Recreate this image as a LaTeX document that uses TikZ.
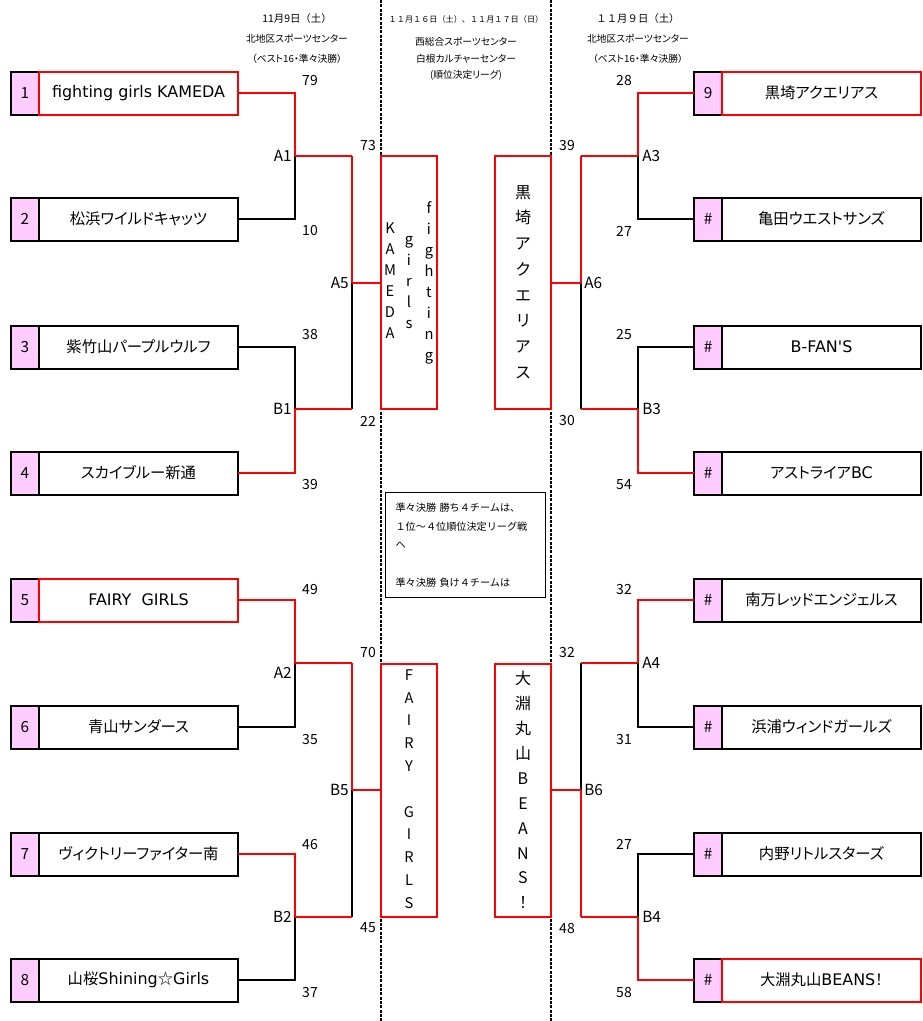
\documentclass[tikz,border=0pt]{standalone}
\usepackage{fontspec}
\setmainfont{Noto Sans CJK JP}[RawFeature=+palt]
\newfontfamily\latin{DejaVu Sans}[Scale=1.04]
\newfontfamily\wide{Noto Sans CJK JP}
\usetikzlibrary{positioning}
\definecolor{numpink}{RGB}{255,204,255}
\tikzset{
    numbox/.style={draw, line width=1.5pt, fill=numpink, minimum width=21pt, minimum height=32.25pt,
        inner sep=0pt, outer sep=0pt, font=\fontsize{11.5}{13}\selectfont},
    teambox/.style={draw, line width=1.5pt, fill=white, minimum width=149.25pt, minimum height=32.25pt,
        inner sep=0pt, outer sep=0pt, font=\fontsize{11.5}{13}\selectfont},
    finalbox/.style={draw=red, line width=1.5pt, fill=white, minimum width=42pt, minimum height=189.75pt,
        inner sep=0pt, outer sep=0pt},
    vtext/.style={align=center, inner sep=0pt, font=\fontsize{11}{15.75}\selectfont},
    score/.style={inner sep=0pt, font=\fontsize{10.5}{12}\selectfont},
    match/.style={inner sep=0pt, text height=8pt, text depth=0pt, font=\fontsize{11.5}{13}\selectfont},
    head/.style={align=center, inner sep=0pt, font=\fontsize{7.3}{15.5}\selectfont},
    bline/.style={line width=1.5pt},
    sepline/.style={line width=1.4pt, dash pattern=on 2.25pt off 1pt}
}
\begin{document}
\begin{tikzpicture}[x=0.75pt, y=-0.75pt]
    \useasboundingbox (0,0) rectangle (922,1021);
    % Separators
    \draw[sepline] (381,0) -- (381,1021);
    \draw[sepline] (551,0) -- (551,1021);
    % Headers
    \node[head] (hl) at (297,39) {{\wide\fontsize{7.8}{8}\selectfont 11月9日（土）}\\[-1pt]北地区スポーツセンター\\（ベスト16・準々決勝）};
    \node[head] (hc) at (466,48) {{\wide\fontsize{6.1}{8}\selectfont １１月１６日（土）、１１月１７日（日）}\\[2pt]
        西総合スポーツセンター\\[-3pt]白根カルチャーセンター\\[-3pt](順位決定リーグ)};
    \node[head] (hr) at (638,39) {{\wide\fontsize{7.8}{8}\selectfont １１月９日（土）}\\[-1pt]北地区スポーツセンター\\（ベスト16・準々決勝）};
    % Left teams
    \foreach \i/\y/\name/\col in {1/93/{\latin fighting girls KAMEDA}/red, 2/219/松浜ワイルドキャッツ/black,
            3/347/紫竹山パープルウルフ/black, 4/473/スカイブルー新通/black, 5/600/{\latin FAIRY\ \ GIRLS}/red,
            6/727/青山サンダース/black, 7/854/ヴィクトリーファイター南/black,
            8/980/山桜{\latin Shining}☆{\latin Girls}/black} {
        \node[numbox] (n\i) at (25,\y) {\i};
        \node[teambox, draw=\col, right=0pt of n\i] (t\i) {\name};
    }
    % Right teams
    \foreach \i/\y/\num/\name/\col in {9/93/9/黒埼アクエリアス/red, 10/219/\#/亀田ウエストサンズ/black,
            11/347/\#/{\latin B-FAN'S}/black, 12/473/\#/アストライア{\latin BC}/black,
            13/600/\#/南万レッドエンジェルス/black, 14/727/\#/浜浦ウィンドガールズ/black,
            15/854/\#/内野リトルスターズ/black, 16/980/\#/大淵丸山{\latin BEANS}！/red} {
        \node[numbox] (n\i) at (708,\y) {\num};
        \node[teambox, draw=\col, right=0pt of n\i] (t\i) {\name};
    }
    % Match points
    \coordinate (A1) at (295,156);
    \coordinate (B1) at (295,409);
    \coordinate (A2) at (295,663);
    \coordinate (B2) at (295,917);
    \coordinate (A5) at (352,283);
    \coordinate (B5) at (352,790);
    \coordinate (A3) at (638,156);
    \coordinate (B3) at (638,409);
    \coordinate (A4) at (638,663);
    \coordinate (B4) at (638,917);
    \coordinate (A6) at (581,283);
    \coordinate (B6) at (581,790);
    % Final league boxes
    \node[finalbox] (k1) at (409,282.5) {};
    \node[finalbox] (k2) at (523,282.5) {};
    \node[finalbox] (k3) at (409,790) {};
    \node[finalbox] (k4) at (523,790) {};
    \node[vtext] (k1a) at (429,282.5) {f\\i\\g\\h\\t\\i\\n\\g};
    \node[vtext] (k1b) at (409,282.5) {g\\i\\r\\l\\s};
    \node[vtext] (k1c) at (390,281) {K\\A\\M\\E\\D\\A};
    \node[vtext, font=\fontsize{12}{19.3}\selectfont] (k2a) at (523,282) {黒\\埼\\ア\\ク\\エ\\リ\\ア\\ス};
    \node[vtext, font=\fontsize{11}{17.1}\selectfont] (k3a) at (409,789) {F\\A\\I\\R\\Y\\\mbox{}\\G\\I\\R\\L\\S};
    \node[vtext, font=\fontsize{12}{18.7}\selectfont] (k4a) at (523,790) {大\\淵\\丸\\山\\B\\E\\A\\N\\S\\！};
    % First round
    \foreach \t/\m/\c in {2/A1/black, 1/A1/red, 3/B1/black, 4/B1/red, 6/A2/black, 5/A2/red, 8/B2/black, 7/B2/red} {
        \draw[bline, \c] (t\t.east) -| (\m);
    }
    \foreach \t/\m/\c in {10/A3/black, 9/A3/red, 11/B3/black, 12/B3/red, 14/A4/black, 13/A4/red, 15/B4/black, 16/B4/red} {
        \draw[bline, \c] (n\t.west) -| (\m);
    }
    % Quarter finals
    \foreach \m/\n/\c in {B1/A5/black, A1/A5/red, B2/B5/black, A2/B5/red, B3/A6/black, A3/A6/red, A4/B6/black, B4/B6/red} {
        \draw[bline, \c] (\m -| \n) -- (\n);
        \draw[bline, red] (\m) -- (\m -| \n);
    }
    \draw[bline, red] (A5) -- (A5 -| k1.west);
    \draw[bline, red] (B5) -- (B5 -| k3.west);
    \draw[bline, red] (A6) -- (A6 -| k2.east);
    \draw[bline, red] (B6) -- (B6 -| k4.east);
    % Match labels
    \foreach \m/\x/\y in {A1/292/156, B1/292/409, A2/292/673, B2/292/917, A5/349/283, B5/349/790} {
        \node[match, anchor=east] (l\m) at (\x,\y) {\m};
    }
    \foreach \m/\x/\y in {A3/642/156, B3/642/409, A4/642/663, B4/642/917, A6/584/283, B6/584/790} {
        \node[match, anchor=west] (l\m) at (\x,\y) {\m};
    }
    % Scores
    \foreach \x/\y/\s [count=\k] in {310/81/79, 310/231/10, 310/335/38, 310/485/39, 310/590/49, 310/739/35,
            310/844/46, 310/992/37, 368/146/73, 368/421/22, 368/652/70, 368/928/45,
            567/146/39, 567/421/30, 567/652/32, 567/928/48, 624/81/28, 624/231/27, 624/335/25,
            624/485/54, 624/590/32, 624/739/31, 624/844/27, 624/992/58} {
        \node[score] (sc\k) at (\x,\y) {\s};
    }
    % Note
    \node[draw, line width=0.9pt, fill=white, anchor=north west, text width=105pt, inner xsep=7.5pt,
        minimum height=78.75pt, align=left, font=\wide\fontsize{7.6}{13.9}\selectfont] (note) at (385,492)
        {準々決勝\ 勝ち４チームは、\\１位～４位順位決定リーグ戦\\へ\\\mbox{}\\準々決勝\ 負け４チームは};
\end{tikzpicture}
\end{document}
